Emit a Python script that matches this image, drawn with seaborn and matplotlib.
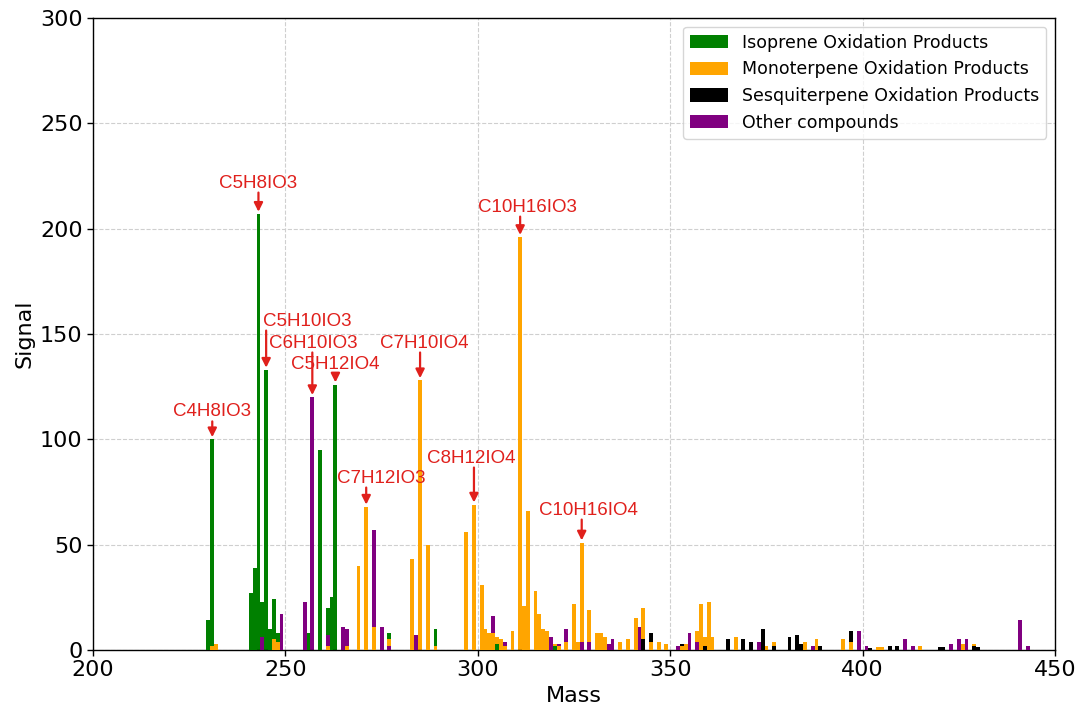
import numpy as np
import pandas as pd
import matplotlib
matplotlib.use("Agg")
import matplotlib.pyplot as plt
import seaborn as sns

# --- Signal per nominal mass, one list pair per compound class ---
iso_mass = [230, 231, 241, 242, 243, 244, 245, 246, 247, 248, 256, 259, 261, 262,
            263, 277, 289, 305, 320]
iso_signal = [14, 100, 27, 39, 207, 23, 133, 10, 24, 8, 8, 95, 20, 25,
              126, 8, 10, 3, 2]

mono_mass = [231, 232, 247, 248, 261, 266, 269, 271, 273, 277, 283, 285, 287, 289,
             297, 299, 301, 302, 303, 304, 305, 306, 307, 309, 311, 312, 313, 315,
             316, 317, 318, 320, 321, 323, 325, 326, 327, 329, 331, 332, 333, 337,
             339, 341, 343, 345, 347, 349, 353, 354, 357, 358, 359, 360, 361, 367,
             375, 377, 385, 388, 395, 397, 404, 405, 415, 426, 429]
mono_signal = [2, 3, 5, 4, 2, 2, 40, 68, 11, 5, 43, 128, 50, 2,
               56, 69, 31, 10, 8, 8, 6, 5, 2, 9, 196, 21, 66, 28,
               17, 10, 9, 3, 2, 4, 22, 4, 51, 19, 8, 8, 6, 4,
               5, 15, 20, 4, 4, 3, 2, 3, 9, 22, 6, 23, 6, 6,
               2, 4, 4, 5, 5, 4, 1.5, 1.5, 2, 3, 3]

sesq_mass = [343, 345, 353, 359, 365, 369, 371, 374, 377, 381, 383, 384, 389, 397,
             402, 407, 409, 420, 421, 429, 430]
sesq_signal = [5, 8, 3, 2, 5, 5, 4, 10, 2, 6, 7, 3, 2, 9,
               1, 2, 2, 1.5, 1.5, 2, 1.5]

other_mass = [244, 249, 255, 257, 261, 265, 266, 273, 275, 277, 284, 304, 307, 319,
              321, 323, 327, 329, 334, 335, 342, 352, 355, 357, 373, 387, 399, 401,
              411, 413, 423, 425, 427, 441, 443]
other_signal = [6, 17, 23, 120, 7, 11, 10, 57, 11, 2, 7, 16, 4, 6,
                3, 10, 4, 4, 3, 5, 11, 2, 8, 4, 4, 2, 9, 2,
                5, 2, 3, 5, 5, 14, 2]

categories = ["Isoprene Oxidation Products", "Monoterpene Oxidation Products",
              "Sesquiterpene Oxidation Products", "Other compounds"]
colors = ["green", "orange", "black", "purple"]

# Labelled peaks: formula, mass of the peak, label centre (x, y)
peak_labels = ["C4H8IO3", "C5H8IO3", "C5H10IO3", "C6H10IO3", "C5H12IO4",
               "C7H10IO4", "C7H12IO3", "C8H12IO4", "C10H16IO3", "C10H16IO4"]
peak_mass = [231, 243, 245, 257, 263, 285, 271, 299, 311, 327]
label_x = [230.9, 242.9, 255.6, 257.3, 262.9, 286.1, 274.9, 298.4, 313.0, 328.8]
label_y = [113.0, 221.6, 156.1, 145.7, 135.7, 145.7, 81.6, 91.1, 210.2, 66.4]

frames = []
for cat, m, s in zip(categories,
                     [iso_mass, mono_mass, sesq_mass, other_mass],
                     [iso_signal, mono_signal, sesq_signal, other_signal]):
    frames.append(pd.DataFrame({"Mass": m, "Signal": s, "Class": cat}))
df = pd.concat(frames, ignore_index=True)

sns.set_theme(style="whitegrid", rc={
    "grid.linestyle": "--",
    "grid.color": "#cfcfcf",
    "grid.linewidth": 0.8,
    "axes.edgecolor": "black",
    "axes.linewidth": 1.0,
    "xtick.bottom": True,
    "ytick.left": True,
    "xtick.color": "black",
    "ytick.color": "black",
    "axes.labelcolor": "black",
    "text.color": "black",
})
plt.rcParams["font.family"] = ["DejaVu Sans"]

fig = plt.figure(figsize=(10.81, 7.11), dpi=100)
ax = fig.add_axes([0.086, 0.0858, 0.890, 0.889])

sns.barplot(data=df, x="Mass", y="Signal", hue="Class", hue_order=categories,
            palette=dict(zip(categories, colors)), native_scale=True,
            dodge=False, errorbar=None, saturation=1, linewidth=0,
            width=1.0, ax=ax)

# smaller peaks sit in front of taller overlapping ones
hmax = df["Signal"].max()
for p in ax.patches:
    h = p.get_height()
    if np.isfinite(h):
        p.set_zorder(2 + (1 - h / hmax))

ax.set_axisbelow(True)
ax.set_xlim(200, 450)
ax.set_ylim(0, 300)
ax.set_xticks(np.arange(200, 451, 50))
ax.set_yticks(np.arange(0, 301, 50))
ax.tick_params(axis="both", labelsize=16, length=4, width=1)
ax.set_xlabel("Mass", fontsize=16)
ax.set_ylabel("Signal", fontsize=16)
ax.grid(True, which="major", linestyle="--", color="#cfcfcf", linewidth=0.8)
for sp in ax.spines.values():
    sp.set_visible(True)
    sp.set_color("black")

sns.move_legend(ax, "upper right", title=None, fontsize=12.5, frameon=True,
                handlelength=2.2, handleheight=0.8)

# Formula labels with arrows pointing at the peaks
peak_lookup = df.groupby("Mass")["Signal"].max()
red = "#e0201c"
for lab, m, tx, ty in zip(peak_labels, peak_mass, label_x, label_y):
    top = peak_lookup[m]
    ax.annotate("", xy=(m, top + 1.0), xytext=(m, ty - 4.5),
                arrowprops=dict(arrowstyle="-|>", color=red, lw=1.6,
                                mutation_scale=13, shrinkA=0, shrinkB=0),
                zorder=6)
    ax.text(tx, ty, lab, ha="center", va="center", color=red, fontsize=13.5,
            family=["Liberation Sans", "DejaVu Sans"], zorder=6)

fig.savefig("out.png", dpi=100)
